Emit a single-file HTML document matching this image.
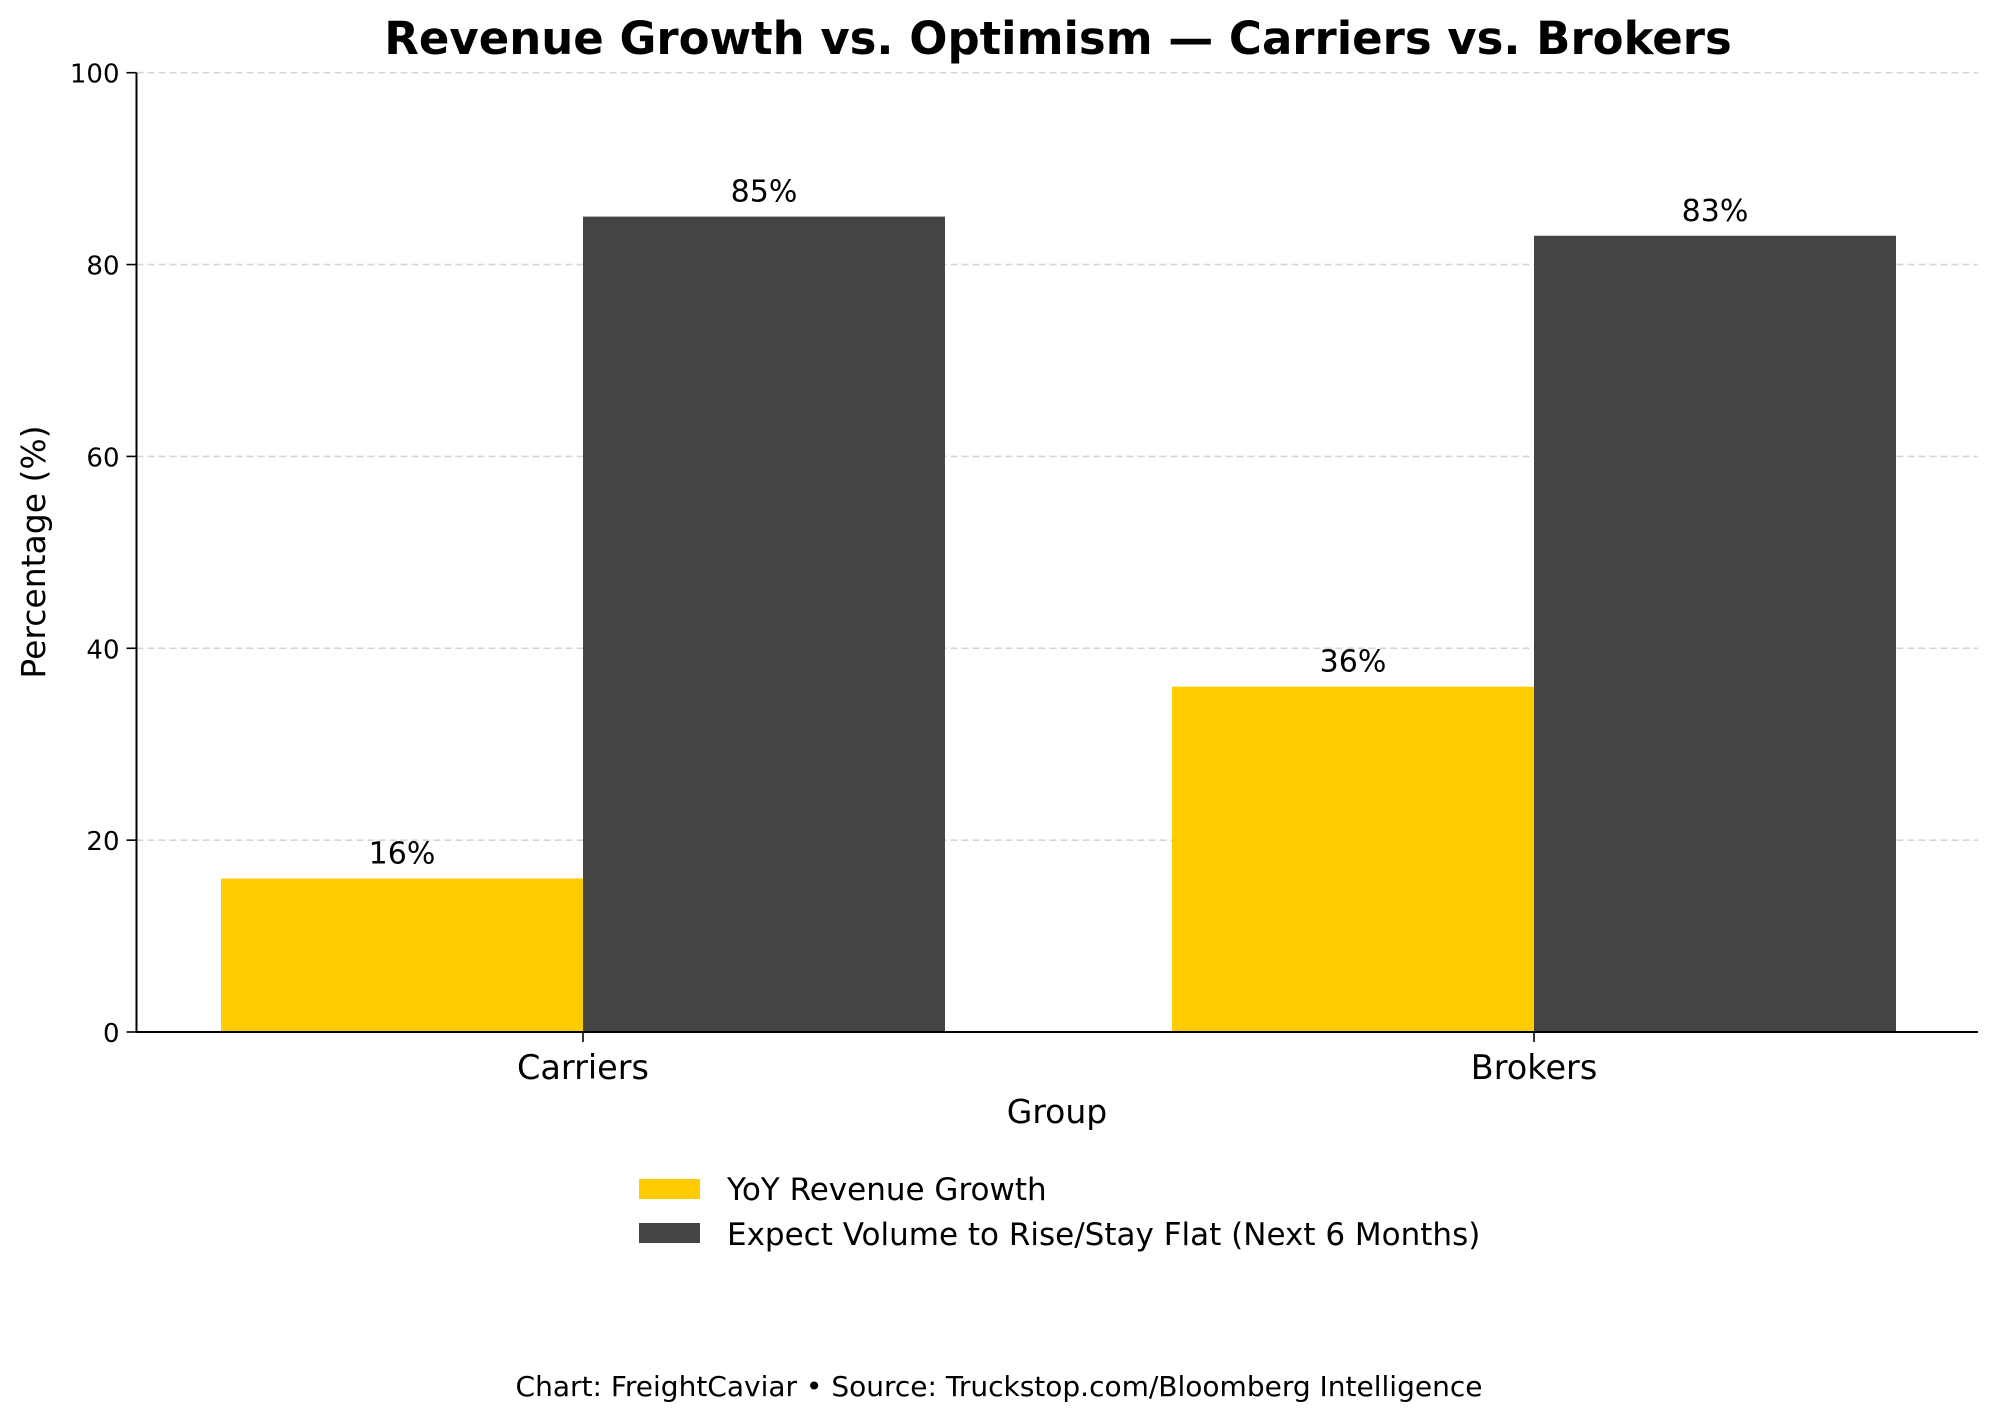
<!DOCTYPE html>
<html><head><meta charset="utf-8"><style>
html,body{margin:0;padding:0;background:#fff;}
svg{display:block;font-family:"DejaVu Sans","Liberation Sans",sans-serif;}
</style></head><body>
<svg id="chart" width="2000" height="1422" viewBox="0 0 2000 1422" xmlns="http://www.w3.org/2000/svg">
<text x="1058" y="54" text-anchor="middle" font-size="45" font-weight="bold">Revenue Growth vs. Optimism — Carriers vs. Brokers</text>
<g id="grid"></g>
<g id="bars"></g>
<g id="axes"></g>
<text x="1057" y="1123" text-anchor="middle" font-size="33">Group</text>
<text transform="translate(45,552) rotate(-90)" text-anchor="middle" font-size="33">Percentage (%)</text>
<g>
<g>
<rect x="639" y="1179" width="61" height="20" fill="#FFCC00"/>
<text x="727" y="1200" font-size="31">YoY Revenue Growth</text>
</g>
<g>
<rect x="639" y="1223" width="61" height="20" fill="#444444"/>
<text x="727" y="1245" font-size="31">Expect Volume to Rise/Stay Flat (Next 6 Months)</text>
</g>
</g>
<text x="999" y="1396" text-anchor="middle" font-size="28">Chart: FreightCaviar • Source: Truckstop.com/Bloomberg Intelligence</text>
</svg>
<script>
const categories = ["Carriers", "Brokers"];
const revenueGrowth = [16, 36];
const expectVolume = [85, 83];
const yTicks = [0, 20, 40, 60, 80, 100];
const seriesColors = ["#FFCC00", "#444444"];

const NS = "http://www.w3.org/2000/svg";
const L = 136.5, R = 1978, T = 72.7, B = 1032;
const yMax = 100;
function yScale(v){ return B - (v / yMax) * (B - T); }
function xCenter(i){ return 583 + i * (1534 - 583); }
const barW = 362;
function mk(tag, attrs, parent){
  const e = document.createElementNS(NS, tag);
  for (const k in attrs) e.setAttribute(k, attrs[k]);
  parent.appendChild(e);
  return e;
}
const grid = document.getElementById('grid');
const axes = document.getElementById('axes');
const bars = document.getElementById('bars');

yTicks.forEach(t => {
  const y = yScale(t);
  if (t > 0) {
    const g = mk('line', {x1: L, x2: R, y1: y, y2: y, stroke: '#d6d6d6', 'stroke-width': 1.6, 'stroke-dasharray': '7,4'}, grid);
    
    
  }
  const tk = mk('line', {x1: L - 10, x2: L, y1: y, y2: y, stroke: '#000', 'stroke-width': 1.6}, axes);
  
  
  const lb = mk('text', {x: L - 17, y: y + 10, 'text-anchor': 'end', 'font-size': 26}, axes);
  lb.textContent = t;
  
  
});

const series = [revenueGrowth, expectVolume];
const seriesNames = ['revenue-growth', 'expect-volume'];
categories.forEach((c, i) => {
  const cx = xCenter(i);
  series.forEach((s, j) => {
    const x = cx - barW + j * barW;
    const y = yScale(s[i]);
    const r = mk('rect', {x: x, y: y, width: barW, height: B - y, fill: seriesColors[j]}, bars);
    
    
    const v = mk('text', {x: x + barW / 2, y: y - 15, 'text-anchor': 'middle', 'font-size': 30}, bars);
    v.textContent = s[i] + '%';
    
    
  });
  const tk = mk('line', {x1: cx, x2: cx, y1: B, y2: B + 10, stroke: '#000', 'stroke-width': 1.6}, axes);
  
  
  const lb = mk('text', {x: cx, y: B + 47, 'text-anchor': 'middle', 'font-size': 33.5}, axes);
  lb.textContent = c;
  
  
});

const ya = mk('line', {x1: L, x2: L, y1: T, y2: B, stroke: '#000', 'stroke-width': 2}, axes);


const xa = mk('line', {x1: L, x2: R, y1: B, y2: B, stroke: '#000', 'stroke-width': 2}, axes);


</script>
</body></html>
